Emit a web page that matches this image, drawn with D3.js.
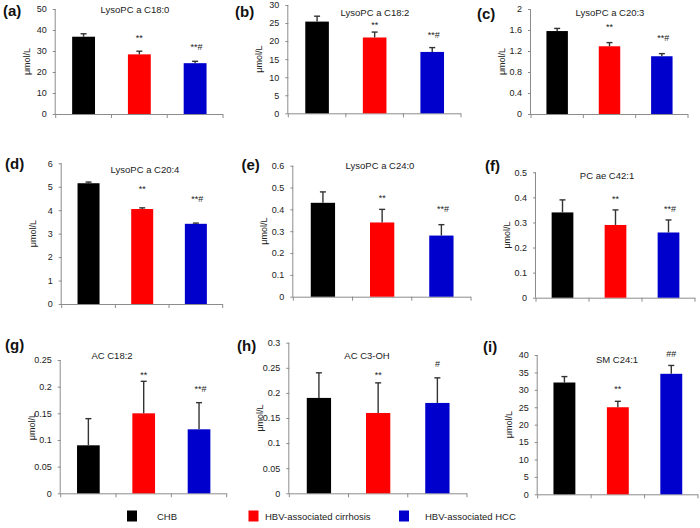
<!DOCTYPE html>
<html>
<head>
<meta charset="utf-8">
<script src="https://cdn.jsdelivr.net/npm/d3@7"></script>
<style>
  html, body { margin: 0; padding: 0; background: #fff; }
  svg { display: block; font-family: "Liberation Sans", Arial, sans-serif; }
</style>
</head>
<body>
<svg id="chart" width="700" height="528"></svg>
<script>
// ---------- DATA ----------
const groups = ["CHB", "HBV-associated cirrhosis", "HBV-associated HCC"];
const groupColors = ["#000000", "#ff0000", "#0000cc"];

const panelIds = ["(a)", "(b)", "(c)", "(d)", "(e)", "(f)", "(g)", "(h)", "(i)"];
const panelTitles = ["LysoPC a C18:0", "LysoPC a C18:2", "LysoPC a C20:3",
                     "LysoPC a C20:4", "LysoPC a C24:0", "PC ae C42:1",
                     "AC C18:2", "AC C3-OH", "SM C24:1"];

const means = [
  [36.8, 28.4, 24.2],
  [25.4, 21.0, 17.0],
  [1.58, 1.29, 1.10],
  [5.15, 4.05, 3.42],
  [0.43, 0.34, 0.28],
  [0.34, 0.29, 0.26],
  [0.09, 0.15, 0.12],
  [0.19, 0.16, 0.18],
  [32.1, 25.0, 34.6]
];
const errors = [
  [1.4, 1.5, 0.9],
  [1.5, 1.5, 1.2],
  [0.05, 0.07, 0.05],
  [0.05, 0.05, 0.03],
  [0.05, 0.06, 0.05],
  [0.05, 0.06, 0.05],
  [0.05, 0.06, 0.05],
  [0.05, 0.06, 0.05],
  [1.7, 1.7, 2.4]
];
const sigMarks = [
  ["", "**", "**#"],
  ["", "**", "**#"],
  ["", "**", "**#"],
  ["", "**", "**#"],
  ["", "**", "**#"],
  ["", "**", "**#"],
  ["", "**", "**#"],
  ["", "**", "#"],
  ["", "**", "##"]
];
const yMax = [50, 30, 2, 6, 0.6, 0.5, 0.25, 0.3, 40];
const yStep = [10, 5, 0.4, 1, 0.1, 0.1, 0.05, 0.05, 5];
const yLabel = "\u03bcmol/L";

// ---------- LAYOUT (positions, not data) ----------
const layout = [
  {x0: 55.7,  x1: 223,   yT: 9,     yB: 114,   tx: 135,   ty: 13,    lx: 3,     ly: 16,  sd: [0, -10, -11]},
  {x0: 288.3, x1: 461,   yT: 5,     yB: 113.3, tx: 375,   ty: 15.5,  lx: 235,   ly: 17,  sd: [0, -4.5, -9.5]},
  {x0: 531,   x1: 688,   yT: 9,     yB: 114,   tx: 610,   ty: 15.8,  lx: 477,   ly: 19,  sd: [0, -12.5, -12.5]},
  {x0: 61.7,  x1: 222.7, yT: 163.3, yB: 304,   tx: 145,   ty: 172.5, lx: 5,     ly: 169, sd: [0, -16, -21]},
  {x0: 293.3, x1: 471,   yT: 165.7, yB: 296.7, tx: 380,   ty: 168.5, lx: 241.5, ly: 170, sd: [0, -8, -13]},
  {x0: 536,   x1: 695,   yT: 172.3, yB: 297.7, tx: 607,   ty: 178.5, lx: 485,   ly: 171, sd: [0, -8, -8]},
  {x0: 60.7,  x1: 226.7, yT: 360,   yB: 493.3, tx: 112,   ty: 358.5, lx: 5,     ly: 350, sd: [0, -3, -11]},
  {x0: 289.3, x1: 467,   yT: 342.7, yB: 493.3, tx: 367,   ty: 358.5, lx: 237,   ly: 351, sd: [0, -4.5, -11]},
  {x0: 537.7, x1: 698,   yT: 355,   yB: 494.3, tx: 617,   ty: 362.5, lx: 483,   ly: 352, sd: [0, -9.5, -8.5]}
];

const svg = d3.select("#chart");
const axisColor = "#8c8c8c";
const textColor = "#222";

layout.forEach((L, i) => {
  const g = svg.append("g");
  const x = d3.scaleBand().domain(groups).range([L.x0, L.x1]).padding(0);
  const y = d3.scaleLinear().domain([0, yMax[i]]).range([L.yB, L.yT]);
  const barW = x.bandwidth() * 0.41;

  // Y axis
  const nT = Math.round(yMax[i] / yStep[i]);
  const tickVals = d3.range(nT + 1).map(k => +(k * yStep[i]).toFixed(4));
  const yAxis = d3.axisLeft(y).tickValues(tickVals).tickSize(3).tickPadding(6)
    .tickFormat(d => String(+d.toFixed(4)));
  const ya = g.append("g").attr("transform", `translate(${L.x0},0)`).call(yAxis);
  ya.select(".domain").attr("stroke", axisColor).attr("d", `M-0.5,${L.yT}V${L.yB}`);
  ya.selectAll(".tick line").attr("stroke", axisColor);
  ya.selectAll(".tick text").attr("font-size", 9).attr("fill", textColor)
    .attr("font-family", '"Liberation Sans", Arial, sans-serif');

  // X axis with boundary ticks
  const xa = g.append("g");
  xa.append("line").attr("x1", L.x0).attr("x2", L.x1).attr("y1", L.yB + 0.5).attr("y2", L.yB + 0.5)
    .attr("stroke", axisColor);
  const bounds = groups.map(d => x(d)).concat([x(groups[2]) + x.bandwidth()]);
  xa.selectAll("line.xt").data(bounds).join("line").attr("class", "xt")
    .attr("x1", d => d).attr("x2", d => d).attr("y1", L.yB).attr("y2", L.yB + 4)
    .attr("stroke", axisColor);

  // Bars
  const cx = d => x(d) + x.bandwidth() / 2;
  g.selectAll("rect.bar").data(groups).join("rect").attr("class", "bar")
    .attr("x", d => cx(d) - barW / 2)
    .attr("y", (d, j) => y(means[i][j]))
    .attr("width", barW)
    .attr("height", (d, j) => y(0) - y(means[i][j]))
    .attr("fill", (d, j) => groupColors[j]);

  // Error bars
  groups.forEach((d, j) => {
    const top = y(means[i][j] + errors[i][j]);
    const base = y(means[i][j]);
    g.append("line").attr("x1", cx(d)).attr("x2", cx(d)).attr("y1", base).attr("y2", top)
      .attr("stroke", "#333").attr("stroke-width", 1.4);
    g.append("line").attr("x1", cx(d) - 3).attr("x2", cx(d) + 3).attr("y1", top).attr("y2", top)
      .attr("stroke", "#333").attr("stroke-width", 1.4);
    if (sigMarks[i][j]) {
      g.append("text").attr("x", cx(d) + (sigMarks[i][j].length === 3 ? 1.5 : 0))
        .attr("y", top + L.sd[j])
        .attr("text-anchor", "middle").attr("font-size", 9).attr("fill", textColor)
        .text(sigMarks[i][j]);
    }
  });

  // Title
  g.append("text").attr("x", L.tx).attr("y", L.ty).attr("text-anchor", "middle")
    .attr("font-size", 9.5).attr("fill", textColor).text(panelTitles[i]);

  // Y label
  const ym = (L.yT + L.yB) / 2;
  g.append("text").attr("transform", `translate(${L.x0 - 26},${ym}) rotate(-90)`)
    .attr("text-anchor", "middle").attr("font-size", 9).attr("fill", textColor).text(yLabel);

  // Panel letter
  g.append("text").attr("x", L.lx).attr("y", L.ly).attr("font-size", 15)
    .attr("font-weight", "bold").attr("fill", "#111").text(panelIds[i]);
});

// Legend
const legX = [127, 248.5, 399];
const legTextX = [157, 265, 425];
const lg = svg.append("g");
groups.forEach((gname, j) => {
  lg.append("rect").attr("x", legX[j]).attr("y", 510.5).attr("width", 10).attr("height", 11)
    .attr("fill", groupColors[j]);
  lg.append("text").attr("x", legTextX[j]).attr("y", 520).attr("font-size", 9.5)
    .attr("fill", textColor).text(gname);
});
</script>
</body>
</html>
